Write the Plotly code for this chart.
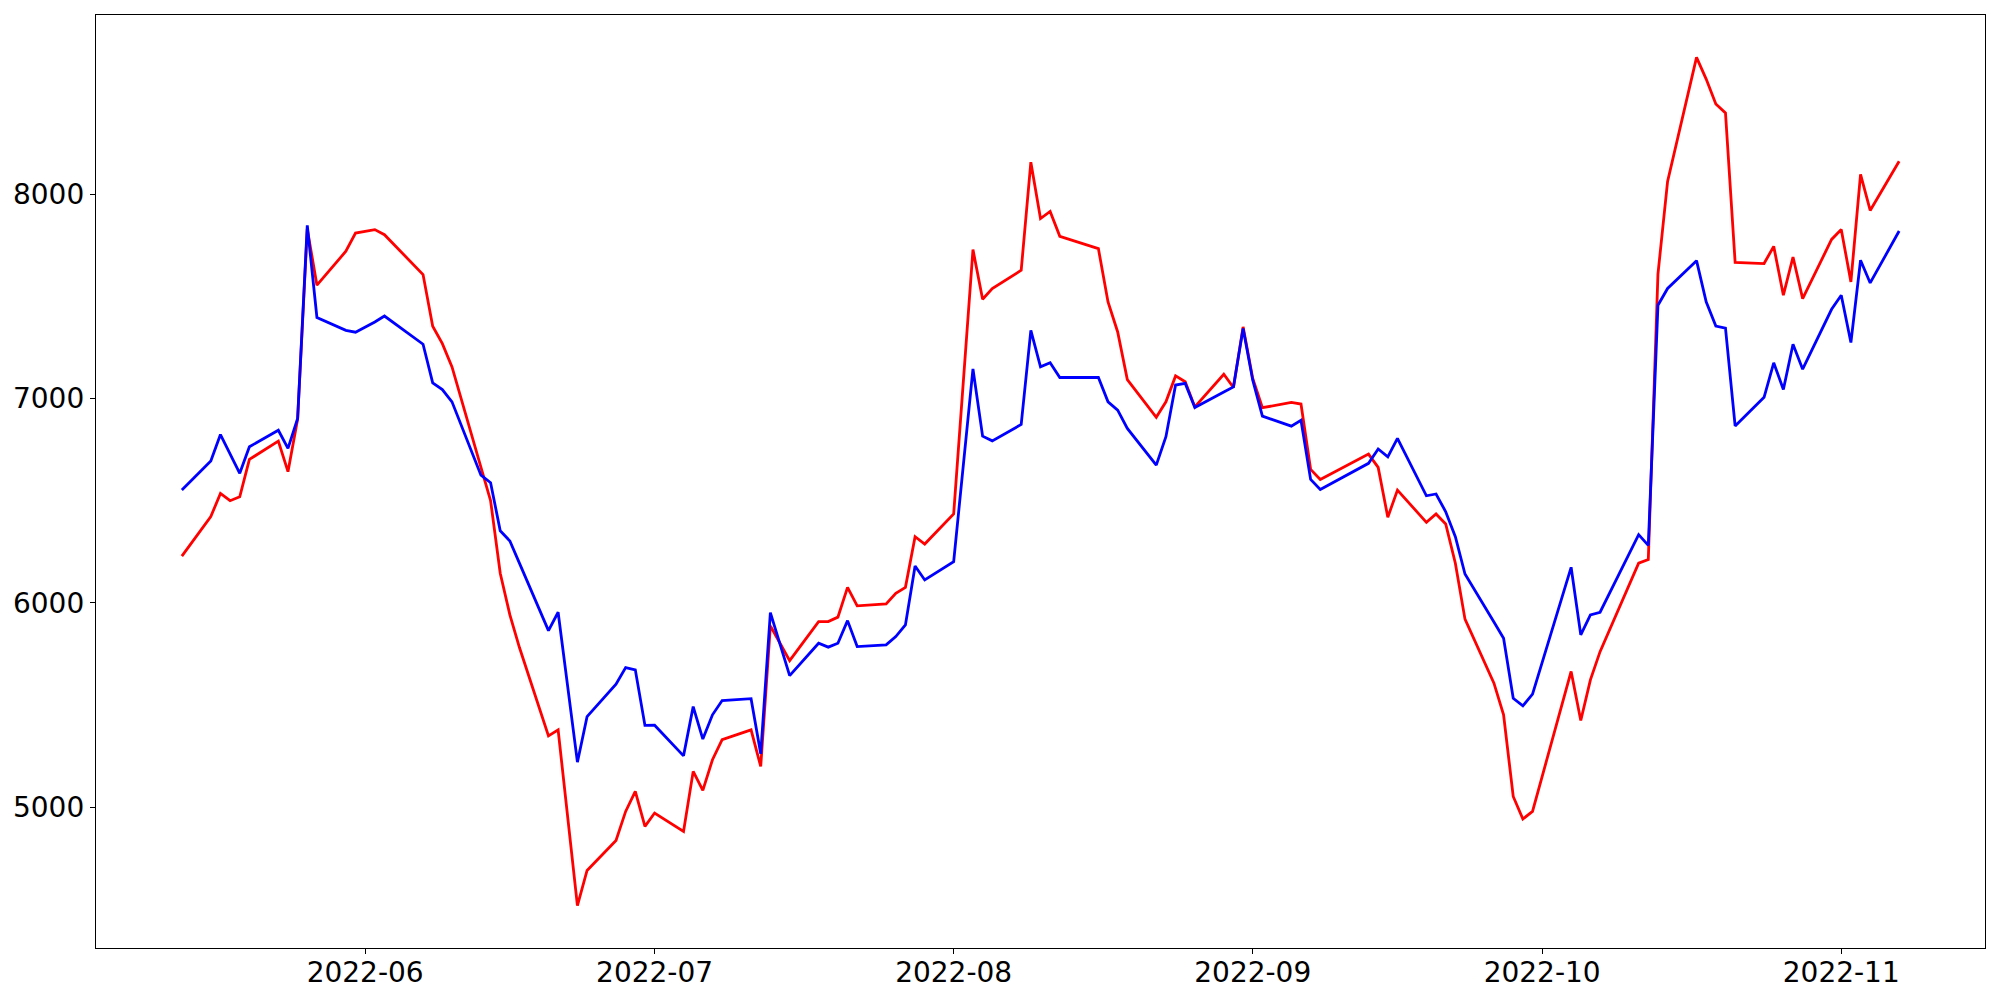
import pandas as pd
import plotly.graph_objects as go

dates = [
    "2022-05-13", "2022-05-16", "2022-05-17", "2022-05-18", "2022-05-19", "2022-05-20",
    "2022-05-23", "2022-05-24", "2022-05-25", "2022-05-26", "2022-05-27", "2022-05-30",
    "2022-05-31", "2022-06-02", "2022-06-03", "2022-06-07", "2022-06-08", "2022-06-09",
    "2022-06-10", "2022-06-13", "2022-06-14", "2022-06-15", "2022-06-16", "2022-06-17",
    "2022-06-20", "2022-06-21", "2022-06-22", "2022-06-23", "2022-06-24", "2022-06-27",
    "2022-06-28", "2022-06-29", "2022-06-30", "2022-07-01", "2022-07-04", "2022-07-05",
    "2022-07-06", "2022-07-07", "2022-07-08", "2022-07-11", "2022-07-12", "2022-07-13",
    "2022-07-14", "2022-07-15", "2022-07-18", "2022-07-19", "2022-07-20", "2022-07-21",
    "2022-07-22", "2022-07-25", "2022-07-26", "2022-07-27", "2022-07-28", "2022-07-29",
    "2022-08-01", "2022-08-02", "2022-08-03", "2022-08-04", "2022-08-05", "2022-08-08",
    "2022-08-09", "2022-08-10", "2022-08-11", "2022-08-12", "2022-08-16", "2022-08-17",
    "2022-08-18", "2022-08-19", "2022-08-22", "2022-08-23", "2022-08-24", "2022-08-25",
    "2022-08-26", "2022-08-29", "2022-08-30", "2022-08-31", "2022-09-01", "2022-09-02",
    "2022-09-05", "2022-09-06", "2022-09-07", "2022-09-08", "2022-09-13", "2022-09-14",
    "2022-09-15", "2022-09-16", "2022-09-19", "2022-09-20", "2022-09-21", "2022-09-22",
    "2022-09-23", "2022-09-26", "2022-09-27", "2022-09-28", "2022-09-29", "2022-09-30",
    "2022-10-04", "2022-10-05", "2022-10-06", "2022-10-07", "2022-10-11", "2022-10-12",
    "2022-10-13", "2022-10-14", "2022-10-17", "2022-10-18", "2022-10-19", "2022-10-20",
    "2022-10-21", "2022-10-24", "2022-10-25", "2022-10-26", "2022-10-27", "2022-10-28",
    "2022-10-31", "2022-11-01", "2022-11-02", "2022-11-03", "2022-11-04", "2022-11-07",
]

red_values = [
    6229, 6422, 6536, 6500, 6519, 6702,
    6792, 6642, 6900, 7830, 7555, 7721,
    7810, 7827, 7802, 7607, 7354, 7269,
    7155, 6670, 6500, 6145, 5941, 5780,
    5349, 5378, 4948, 4518, 4690, 4837,
    4979, 5077, 4906, 4971, 4881, 5175,
    5082, 5232, 5330, 5378, 5199, 5887,
    5802, 5717, 5908, 5908, 5930, 6076,
    5985, 5995, 6047, 6076, 6324, 6288,
    6435, 7082, 7729, 7486, 7538, 7628,
    8157, 7881, 7916, 7794, 7734, 7473,
    7326, 7093, 6908, 6984, 7111, 7082,
    6959, 7119, 7054, 7351, 7098, 6955,
    6981, 6973, 6653, 6604, 6728, 6663,
    6419, 6552, 6394, 6435, 6386, 6194,
    5920, 5607, 5452, 5052, 4942, 4979,
    5664, 5424, 5623, 5761, 6194, 6212,
    7609, 8063, 8670, 8564, 8442, 8398,
    7667, 7661, 7745, 7506, 7693, 7489,
    7779, 7828, 7571, 8097, 7921, 8162,
]

blue_values = [
    6552, 6694, 6824, 6729, 6634, 6764,
    6845, 6756, 6903, 7848, 7397, 7334,
    7325, 7375, 7404, 7266, 7077, 7044,
    6984, 6625, 6588, 6353, 6303, 6193,
    5864, 5954, 5587, 5220, 5443, 5602,
    5683, 5672, 5400, 5401, 5251, 5492,
    5333, 5452, 5522, 5531, 5261, 5952,
    5798, 5644, 5802, 5783, 5802, 5913,
    5786, 5794, 5835, 5892, 6180, 6112,
    6202, 6674, 7145, 6816, 6793, 6873,
    7334, 7155, 7175, 7103, 7103, 6984,
    6943, 6854, 6674, 6813, 7066, 7074,
    6956, 7032, 7057, 7343, 7090, 6914,
    6865, 6894, 6604, 6555, 6683, 6753,
    6715, 6805, 6524, 6533, 6446, 6324,
    6141, 5906, 5827, 5533, 5496, 5553,
    6174, 5843, 5941, 5954, 6334, 6281,
    7457, 7539, 7675, 7474, 7355, 7345,
    6866, 7006, 7175, 7044, 7266, 7144,
    7437, 7506, 7274, 7677, 7566, 7820,
]

x_tick_values = ["2022-06-01", "2022-07-01", "2022-08-01", "2022-09-01", "2022-10-01", "2022-11-01"]
x_tick_labels = ["2022-06", "2022-07", "2022-08", "2022-09", "2022-10", "2022-11"]
y_tick_values = [5000, 6000, 7000, 8000]

x = pd.to_datetime(dates)
span = x.max() - x.min()
x_range = [x.min() - 0.05 * span, x.max() + 0.05 * span]
all_vals = red_values + blue_values
ymin, ymax = min(all_vals), max(all_vals)
yspan = ymax - ymin
y_range = [ymin - 0.05 * yspan, ymax + 0.05 * yspan]

fig = go.Figure()
fig.add_trace(go.Scatter(x=x, y=red_values, mode="lines",
                         line=dict(color="#ff0000", width=2.8), showlegend=False))
fig.add_trace(go.Scatter(x=x, y=blue_values, mode="lines",
                         line=dict(color="#0000ff", width=2.8), showlegend=False))

axis_common = dict(showgrid=False, zeroline=False, showline=True, mirror=True,
                   linecolor="black", linewidth=1.3, ticks="outside", ticklen=5,
                   tickwidth=1.3, tickcolor="black", automargin=False,
                   tickfont=dict(family="DejaVu Sans", size=28, color="black"))

fig.update_layout(
    width=2000, height=1000,
    margin=dict(l=96, r=15, t=15, b=52),
    paper_bgcolor="white", plot_bgcolor="white",
    xaxis=dict(range=x_range, tickvals=pd.to_datetime(x_tick_values),
               ticktext=x_tick_labels, ticklabelstandoff=-6, **axis_common),
    yaxis=dict(range=y_range, tickvals=y_tick_values,
               ticktext=[str(v) for v in y_tick_values], ticklabelstandoff=0,
               **axis_common),
)

fig.write_html("out.html",
               config={"displayModeBar": False},
               post_script="document.body.style.margin='0';document.body.style.overflow='hidden';")
